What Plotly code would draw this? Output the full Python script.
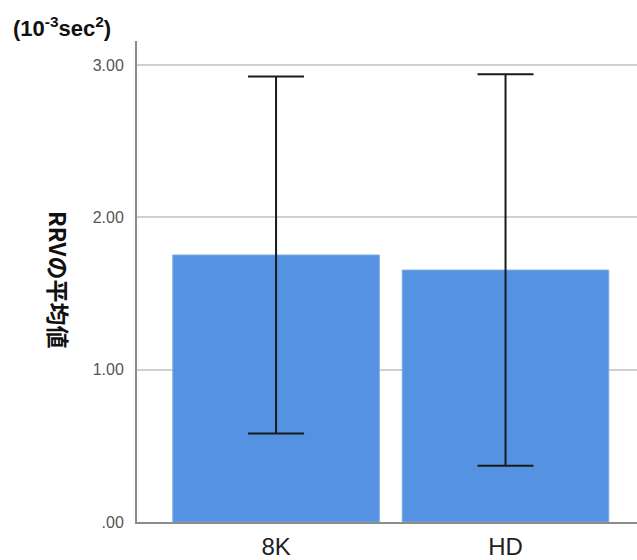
import plotly.graph_objects as go

# Mean RRV per display condition, with symmetric error half-widths (10^-3 sec^2)
categories = ["8K", "HD"]
means = [1.753, 1.654]
errors = [1.172, 1.285]

y_tickvals = [0, 1, 2, 3]
y_ticktext = [".00", "1.00", "2.00", "3.00"]

BAR_COLOR = "#5593E2"
AXIS_COLOR = "#8c8c8c"
GRID_COLOR = "#d0d0d0"

fig = go.Figure()
fig.add_trace(go.Bar(
    x=categories,
    y=means,
    width=0.9,
    marker=dict(color=BAR_COLOR, line=dict(color="#7aaae8", width=1)),
    error_y=dict(type="data", array=errors, visible=True,
                 color="#1a1a1a", thickness=2, width=28),
    hoverinfo="x+y",
))

fig.update_layout(
    width=637, height=560,
    margin=dict(l=137, r=0, t=41, b=36),
    plot_bgcolor="white",
    paper_bgcolor="white",
    showlegend=False,
    font=dict(family="Liberation Sans, Noto Sans CJK JP, sans-serif"),
    xaxis=dict(
        type="category",
        range=[-0.606, 1.573],
        showline=True, linecolor=AXIS_COLOR, linewidth=2,
        showgrid=False, ticks="",
        tickfont=dict(size=24, color="#222222"),
        ticklabelstandoff=2,
    ),
    yaxis=dict(
        range=[0, 3.158],
        tickvals=y_tickvals, ticktext=y_ticktext,
        showline=True, linecolor=AXIS_COLOR, linewidth=2,
        showgrid=True, gridcolor=GRID_COLOR, gridwidth=1.5,
        zeroline=False, ticks="",
        tickfont=dict(size=16, color="#555555"),
        ticklabelstandoff=8,
    ),
    annotations=[
        dict(text="<b>RRVの平均値</b>", textangle=90,
             xref="paper", yref="paper", x=-0.156, y=0.505,
             xanchor="center", yanchor="middle", showarrow=False,
             font=dict(size=23, color="#111111",
                       family="Noto Sans CJK JP, sans-serif")),
        dict(text="<b>(10<sup>-3</sup>sec<sup>2</sup>)</b>",
             xref="paper", yref="paper", x=-0.252, y=1.029,
             xanchor="left", yanchor="middle", showarrow=False,
             font=dict(size=22, color="#111111",
                       family="Liberation Sans, sans-serif")),
    ],
)

fig.write_html("out.html")
